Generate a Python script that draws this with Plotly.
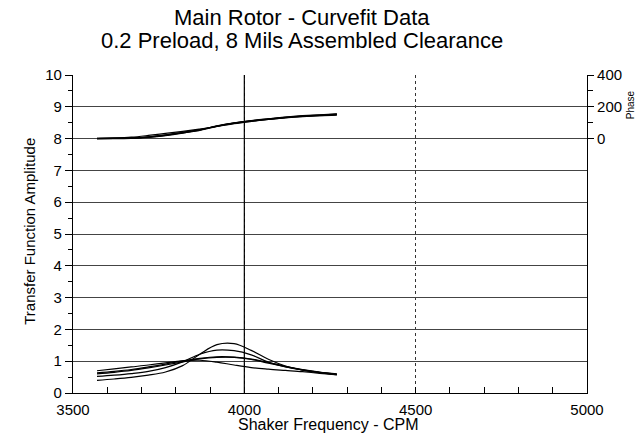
import plotly.graph_objects as go

freq = [3570, 3620, 3670, 3720, 3770, 3820, 3870, 3920, 3970, 4020, 4070, 4120, 4170, 4220, 4270]

# Transfer function amplitude curves (left axis)
amp_a = [0.40, 0.44, 0.49, 0.56, 0.66, 0.86, 1.22, 1.52, 1.55, 1.34, 1.06, 0.85, 0.72, 0.64, 0.57]
amp_b = [0.52, 0.56, 0.61, 0.68, 0.80, 0.98, 1.22, 1.35, 1.33, 1.20, 0.97, 0.82, 0.72, 0.64, 0.59]
amp_c = [0.60, 0.65, 0.71, 0.79, 0.88, 0.98, 1.07, 1.12, 1.12, 1.06, 0.94, 0.83, 0.73, 0.65, 0.59]
amp_d = [0.63, 0.68, 0.74, 0.82, 0.91, 1.01, 1.09, 1.14, 1.13, 1.07, 0.96, 0.84, 0.74, 0.66, 0.60]
amp_e = [0.70, 0.76, 0.82, 0.88, 0.95, 1.01, 1.03, 0.97, 0.88, 0.80, 0.75, 0.71, 0.67, 0.62, 0.58]

# Phase curves (right axis, degrees)
ph_1 = [0, 1, 3, 10, 22, 38, 55, 78, 96, 110, 122, 133, 141, 147, 152]
ph_2 = [2, 4, 9, 20, 33, 46, 60, 76, 94, 108, 120, 130, 138, 144, 148]
ph_3 = [0, 0, 2, 8, 19, 35, 54, 80, 99, 113, 124, 134, 142, 148, 154]
ph_4 = [1, 2, 4, 11, 23, 40, 57, 79, 97, 111, 121, 131, 139, 145, 150]
ph_5 = [0, 1, 3, 9, 20, 36, 52, 77, 98, 112, 125, 136, 144, 150, 156]

x_ticks = [3500, 4000, 4500, 5000]
y_ticks = list(range(0, 11))
phase_ticks = [0, 200, 400]
phase_minor = [100, 300]

title_lines = ["Main Rotor - Curvefit Data", "0.2 Preload, 8 Mils Assembled Clearance"]

FONT = "Liberation Sans, Arial, sans-serif"
line_style = dict(color="black", width=1.2, shape="spline", smoothing=1.0)

fig = go.Figure()
for amp in [amp_a, amp_b, amp_c, amp_d, amp_e]:
    fig.add_trace(go.Scatter(x=freq, y=amp, mode="lines", line=line_style,
                             showlegend=False, hoverinfo="skip"))
for ph in [ph_1, ph_2, ph_3, ph_4, ph_5]:
    fig.add_trace(go.Scatter(x=freq, y=ph, mode="lines", line=line_style,
                             yaxis="y2", showlegend=False, hoverinfo="skip"))

fig.add_shape(type="line", xref="x", yref="paper", x0=4000, x1=4000, y0=0, y1=1,
              line=dict(color="black", width=1.2), layer="above")

fig.update_layout(
    width=643, height=438,
    margin=dict(l=73, r=56, t=75, b=45, autoexpand=False),
    paper_bgcolor="white", plot_bgcolor="white",
    font=dict(family=FONT, color="black", size=15),
    xaxis=dict(range=[3500, 5000], tickmode="array", tickvals=x_ticks,
               ticks="inside", ticklen=6, tickwidth=1, tickcolor="black",
               showline=True, linecolor="black", linewidth=1.2,
               showgrid=True, gridcolor="#333", griddash="dot", gridwidth=1,
               zeroline=False, automargin=False, ticklabelstandoff=3,
               minor=dict(dtick=100, tick0=3500, ticks="inside", ticklen=6,
                          tickcolor="black", showgrid=False),
               tickfont=dict(size=15)),
    yaxis=dict(range=[0, 10], tickmode="array", tickvals=y_ticks,
               ticks="outside", ticklen=7, tickcolor="black",
               showline=True, linecolor="black", linewidth=1.2,
               showgrid=True, gridcolor="#444", gridwidth=0.9,
               zeroline=False, automargin=False,
               minor=dict(dtick=0.5, tick0=0, ticks="outside", ticklen=4,
                          tickcolor="black", showgrid=False),
               tickfont=dict(size=15)),
    yaxis2=dict(range=[-1600, 400], overlaying="y", side="right",
                tickmode="array", tickvals=phase_ticks,
                ticks="outside", ticklen=6, tickcolor="black",
                showline=True, linecolor="black", linewidth=1.2,
                showgrid=False, zeroline=False, automargin=False,
                minor=dict(tickmode="array", tickvals=phase_minor, ticks="outside",
                           ticklen=5, tickcolor="black", showgrid=False),
                tickfont=dict(size=15)),
)

# Titles
fig.add_annotation(text=title_lines[0], xref="paper", yref="paper", x=0.4455, y=1.182,
                   xanchor="center", yanchor="middle", showarrow=False,
                   font=dict(family=FONT, size=22, color="black"))
fig.add_annotation(text=title_lines[1], xref="paper", yref="paper", x=0.4455, y=1.107,
                   xanchor="center", yanchor="middle", showarrow=False,
                   font=dict(family=FONT, size=22, color="black"))
# Axis titles
fig.add_annotation(text="Shaker Frequency - CPM", xref="paper", yref="paper", x=0.497, y=-0.099,
                   xanchor="center", yanchor="middle", showarrow=False,
                   font=dict(family=FONT, size=16, color="black"))
fig.add_annotation(text="Transfer Function Amplitude", xref="paper", yref="paper",
                   x=-0.0837, y=0.51, xanchor="center", yanchor="middle", textangle=-90,
                   showarrow=False, font=dict(family=FONT, size=15, color="black"))
fig.add_annotation(text="Phase", xref="paper", yref="paper", x=1.0837, y=0.905,
                   xanchor="center", yanchor="middle", textangle=-90,
                   showarrow=False, font=dict(family=FONT, size=10, color="black"))

fig.write_html("out.html", config={"displayModeBar": False},
               post_script="document.body.style.margin='0';")
